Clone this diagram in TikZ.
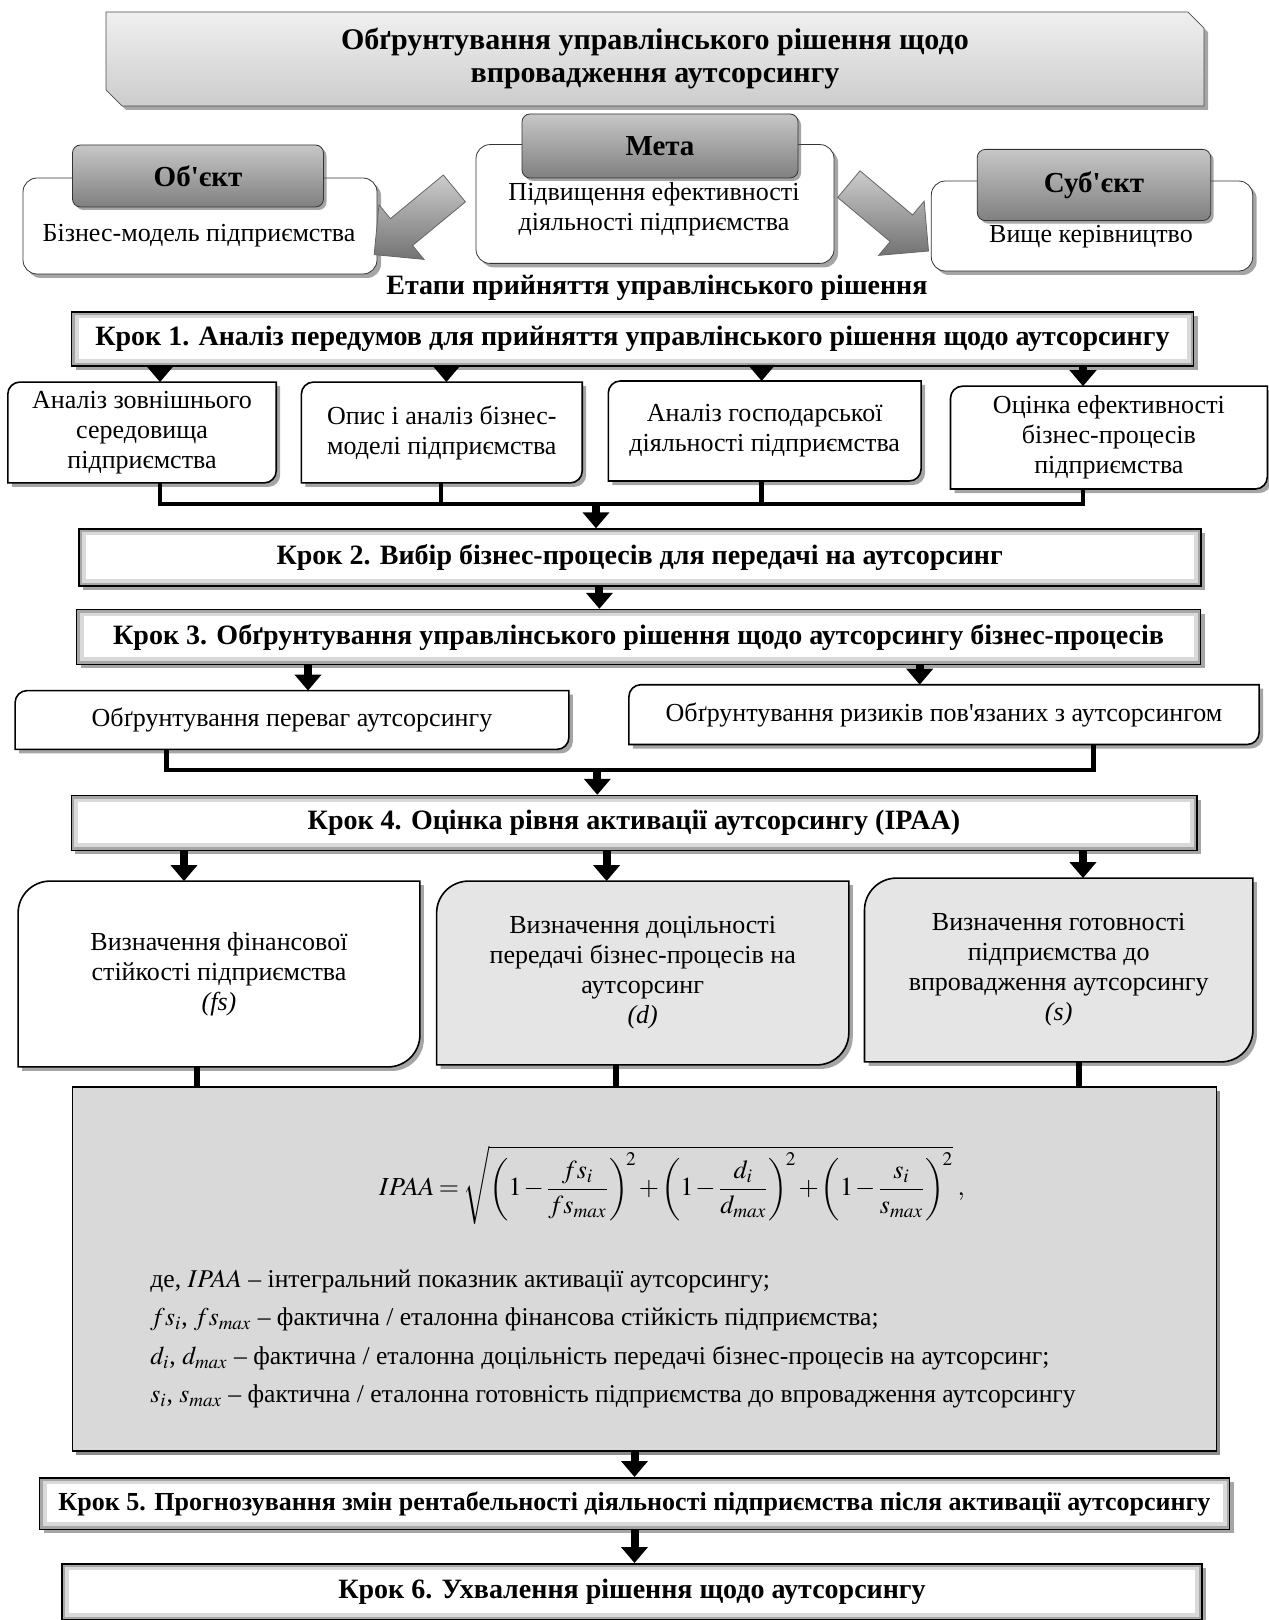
\documentclass[tikz,border=0pt]{standalone}
\usepackage{amsmath}
\usepackage{mathptmx}
\usepackage{fontspec}
\setmainfont{Liberation Serif}
\usetikzlibrary{calc,positioning,arrows.meta,shapes.arrows,shapes.misc,%
  shadows,backgrounds}
\newcommand{\stepfont}{\bfseries\fontsize{14}{16}\selectfont}
\newcommand{\boxfont}{\fontsize{13}{15}\selectfont}
\tikzstyle{stepbox}=[draw,line width=0.8pt,fill=black!35,inner sep=0,font=\stepfont,%
  drop shadow={shadow xshift=2pt,shadow yshift=-2pt,fill=black!70},%
  path picture={\fill[black!15] ([shift={(1.5pt,-1.5pt)}]path picture bounding box.north west)
      rectangle ([shift={(-1.5pt,1.5pt)}]path picture bounding box.south east);
    \fill[white] ([shift={(3.5pt,-3pt)}]path picture bounding box.north west)
      rectangle ([shift={(-3.5pt,3.5pt)}]path picture bounding box.south east);}]
\tikzstyle{txtbox}=[inner sep=0,align=center,font=\boxfont]
% frame with rounded top left and bottom right corners
\newcommand{\diagframe}[3]{%
  \draw[line width=0.8pt,fill=#3,drop shadow={shadow xshift=2pt,shadow yshift=-2pt,fill=black!70}]
    ($(#1.north west)+(0,-#2)$) arc[start angle=180,end angle=90,radius=#2]
    -- (#1.north east) -- ($(#1.south east)+(0,#2)$)
    arc[start angle=0,end angle=-90,radius=#2] -- (#1.south west) -- cycle;
}

\begin{document}
\begin{tikzpicture}[x=0.5pt,y=-0.5pt,
    head/.style={draw=black!80,rounded corners=4pt,top color=black!22,bottom color=black!50,%
      inner sep=0,font=\bfseries\fontsize{14.5}{17}\selectfont,%
      drop shadow={shadow xshift=1.5pt,shadow yshift=-1.5pt,fill=black!70}},
    card/.style={draw=black!80,rounded corners=7pt,fill=white,inner sep=0,%
      drop shadow={shadow xshift=2pt,shadow yshift=-2pt,fill=black!70}},
    blockarrow/.style={single arrow,draw=black!60,top color=black!20,bottom color=black!55,%
      inner xsep=0,inner ysep=8.5pt,minimum height=52pt,single arrow head extend=9pt},
    bigarrow/.style={line width=4pt,-{Triangle[width=13pt,length=8pt]}},
    conn/.style={line width=2.4pt}
    ]
    \useasboundingbox (0,0) rectangle (1268,1620);

    % title
    \node[chamfered rectangle,chamfered rectangle corners={north east,south west},
      chamfered rectangle xsep=5pt,draw=black!70,top color=black!6,bottom color=black!20,inner sep=0,
      minimum width=549pt,minimum height=47pt,align=center,
      font=\bfseries\fontsize{15}{16.5}\selectfont,
      drop shadow={shadow xshift=2pt,shadow yshift=-2pt,fill=black!70}] (title) at (655,59)
      {Обґрунтування управлінського рішення щодо\\впровадження аутсорсингу};

    % object, goal, subject
    \node[card,minimum width=177pt,minimum height=48pt] (obj) at (200,226) {};
    \node[head,minimum width=125.5pt,minimum height=31pt] (objh) at (198,176) {Об\textquotesingle єкт};
    \node[txtbox] (objt) at (199,236) {Бізнес-модель підприємства};

    \node[card,minimum width=179pt,minimum height=59.4pt] (meta) at (655,204) {};
    \node[head,minimum width=138pt,minimum height=32pt] (metah) at (660,146) {Мета};
    \node[txtbox] (metat) at (654,209) {Підвищення ефективності\\діяльності підприємства};

    \node[card,minimum width=160.7pt,minimum height=45pt] (subj) at (1092,226) {};
    \node[head,minimum width=116.7pt,minimum height=35.6pt] (subjh) at (1094,185) {Суб\textquotesingle єкт};
    \node[txtbox] (subjt) at (1091,237) {Вище керівництво};

    \node[blockarrow,rotate=-140.5] (larr) at (421,216) {};
    \node[blockarrow,rotate=-40] (rarr) at (882,212) {};

    \node[font=\bfseries\fontsize{14}{16}\selectfont,inner sep=0] (etap) at (657,288)
      {Етапи прийняття управлінського рішення};

    % step 1
    \node[stepbox,minimum width=561pt,minimum height=26.9pt] (k1) at (632.5,339)
      {Крок 1. Аналіз передумов для прийняття управлінського рішення щодо аутсорсингу};
    \node[txtbox,minimum width=133.8pt,minimum height=50pt] (a1) at (142,432.5)
      {Аналіз зовнішнього\\середовища\\підприємства};
    \node[txtbox,minimum width=140pt,minimum height=50pt] (a2) at (441.8,432.5)
      {Опис і аналіз бізнес-\\моделі підприємства};
    \node[txtbox,minimum width=156pt,minimum height=49.6pt] (a3) at (764.7,431)
      {Аналіз господарської\\діяльності підприємства};
    \node[txtbox,minimum width=158pt,minimum height=51pt] (a4) at (1108.9,437.6)
      {Оцінка ефективності\\бізнес-процесів\\підприємства};

    % step 2 and 3
    \node[stepbox,minimum width=561pt,minimum height=28.4pt] (k2) at (639.7,557.5)
      {Крок 2. Вибір бізнес-процесів для передачі на аутсорсинг};
    \node[stepbox,minimum width=562pt,minimum height=27.4pt] (k3) at (638.6,637)
      {Крок 3. Обґрунтування управлінського рішення щодо аутсорсингу бізнес-процесів};
    \node[txtbox,minimum width=276.5pt,minimum height=29pt] (p1) at (292,720)
      {Обґрунтування переваг аутсорсингу};
    \node[txtbox,minimum width=314.7pt,minimum height=29.5pt] (p2) at (944,714.6)
      {Обґрунтування ризиків пов\textquotesingle язаних з аутсорсингом};

    % step 4
    \node[stepbox,minimum width=562.7pt,minimum height=27.4pt] (k4) at (634,823)
      {Крок 4. Оцінка рівня активації аутсорсингу (IPAA)};
    \node[txtbox,minimum width=200.5pt,minimum height=92.5pt] (b1) at (219,974)
      {Визначення фінансової\\стійкості підприємства\\\textit{(fs)}};
    \node[txtbox,minimum width=205.7pt,minimum height=91.5pt] (b2) at (642.7,973)
      {Визначення доцільності\\передачі бізнес-процесів на\\аутсорсинг\\\textit{(d)}};
    \node[txtbox,minimum width=193.8pt,minimum height=91.5pt] (b3) at (1058.7,970)
      {Визначення готовності\\підприємства до\\впровадження аутсорсингу\\\textit{(s)}};

    % formula
    \node[draw,line width=0.8pt,fill=black!15,minimum width=572pt,minimum height=182pt,
      drop shadow={shadow xshift=2pt,shadow yshift=-2pt,fill=black!90}] (fbox) at (644.3,1269) {};
    \node[inner sep=0,font=\fontsize{13}{15}\selectfont] (ftex) at (672,1185)
      {\medmuskip=1.5mu\thickmuskip=3mu
       $IPAA=\sqrt{\left(1-\dfrac{fs_i}{fs_{max}}\right)^{\!2}+\left(1-\dfrac{d_i}{d_{max}}\right)^{\!2}
        +\left(1-\dfrac{s_i}{s_{max}}\right)^{\!2}}\;,$};
    \node[inner sep=0,align=left,anchor=west,font=\fontsize{12.8}{19.3}\selectfont] (leg) at (150,1339)
      {де, $IPAA$ – інтегральний показник активації аутсорсингу;\\
       $fs_i$, $fs_{max}$ – фактична / еталонна фінансова стійкість підприємства;\\
       $d_i$, $d_{max}$ – фактична / еталонна доцільність передачі бізнес-процесів на аутсорсинг;\\
       $s_i$, $s_{max}$ – фактична / еталонна готовність підприємства до впровадження аутсорсингу};

    % step 5 and 6
    \node[stepbox,font=\bfseries\fontsize{13}{15}\selectfont,minimum width=595pt,minimum height=25.8pt] (k5) at (634.5,1503.6)
      {Крок 5. Прогнозування змін рентабельності діяльності підприємства після активації аутсорсингу};
    \node[stepbox,minimum width=570pt,minimum height=28pt] (k6) at (632,1591.8)
      {Крок 6. Ухвалення рішення щодо аутсорсингу};

    % frames
    \begin{scope}[on background layer]
      \foreach \b in {a1,a2,a3,a4,p1,p2} {\diagframe{\b}{6pt}{white}}
      \diagframe{b1}{16pt}{white}
      \diagframe{b2}{16pt}{black!10}
      \diagframe{b3}{16pt}{black!10}
    \end{scope}

    % arrows and joins
    \foreach \b/\x in {a1/160,a2/446.4,a3/761.6,a4/1083}
      \draw[bigarrow] (k1.south -| \x,0) -- (\b.north -| \x,0);
    \coordinate (j1) at (596,504);
    \draw[conn] (a1.south -| 160,0) |- (j1) -| (a4.south -| 1083,0);
    \foreach \b/\x in {a2/441,a3/761.6}
      \draw[conn] (\b.south -| \x,0) -- (j1 -| \x,0);
    \draw[bigarrow] (j1) -- (k2.north -| j1);
    \draw[bigarrow] (k2.south -| 599.4,0) -- (k3.north -| 599.4,0);

    \foreach \b/\x in {p1/308,p2/919.7}
      \draw[bigarrow] (k3.south -| \x,0) -- (\b.north -| \x,0);
    \coordinate (j2) at (597.3,770);
    \draw[conn] (p1.south -| 166.4,0) |- (j2) -| (p2.south -| 1093.3,0);
    \draw[bigarrow] (j2) -- (k4.north -| j2);

    \foreach \b/\x in {b1/184,b2/606.6,b3/1083}
      \draw[bigarrow] (k4.south -| \x,0) -- (\b.north -| \x,0);
    \foreach \b/\x in {b1/197.4,b2/616,b3/1078.9}
      \draw[conn,line width=3pt] (\b.south -| \x,0) -- (fbox.north -| \x,0);

    \draw[bigarrow] (fbox.south -| 634.5,0) -- (k5.north -| 634.5,0);
    \draw[bigarrow] (k5.south -| 634.5,0) -- (k6.north -| 634.5,0);

  \end{tikzpicture}
\end{document}
